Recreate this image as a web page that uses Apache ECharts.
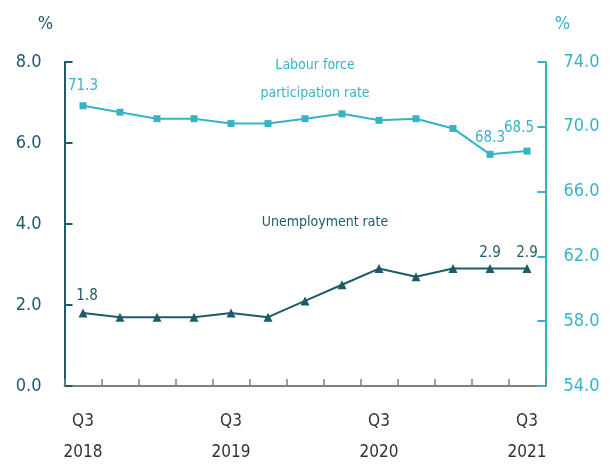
<!DOCTYPE html>
<html>
<head>
<meta charset="utf-8">
<script src="https://cdn.jsdelivr.net/npm/echarts@6/dist/echarts.min.js"></script>
<style>
html,body{margin:0;padding:0;background:#fff;}
#c{width:611px;height:468px;}
</style>
</head>
<body>
<div id="c"></div>
<script>
const quarters = ['Q3','Q4','Q1','Q2','Q3','Q4','Q1','Q2','Q3','Q4','Q1','Q2','Q3'];
const years = ['2018','2018','2019','2019','2019','2019','2020','2020','2020','2020','2021','2021','2021'];
const unemployment = [1.8,1.7,1.7,1.7,1.8,1.7,2.1,2.5,2.9,2.7,2.9,2.9,2.9];
const participation = [71.3,70.9,70.5,70.5,70.2,70.2,70.5,70.8,70.4,70.5,69.9,68.3,68.5];
const leftTicks = {min:0, max:8, interval:2};
const rightTicks = {min:54, max:74, interval:4};
const labelledIdx = [0, 11, 12];

const FONT = "'DejaVu Sans Condensed','Liberation Sans Narrow','Arial Narrow','Liberation Sans',sans-serif";
const DARK = '#1f5a69';
const LIGHT = '#38b3c4';

const categories = quarters.map((q,i)=>q+' '+years[i]);

const partLabelOffset = {0:[0,0], 11:[0,4], 12:[-8,-3]};
const unempLabelOffset = {0:[4,0], 11:[0,2], 12:[0,2]};

function buildData(vals, offsets, color, dist){
  return vals.map((v,i)=>{
    if(labelledIdx.indexOf(i) >= 0){
      return {value:v, label:{show:true, position:'top', distance:dist, offset:offsets[i],
        color:color, fontFamily:FONT, fontSize:15, formatter:(p)=>p.value.toFixed(1)}};
    }
    return {value:v};
  });
}

const chart = echarts.init(document.getElementById('c'), null, {renderer:'canvas'});
chart.setOption({
  animation:false,
  backgroundColor:'#fff',
  grid:{left:64.5, right:65.5, top:62, bottom:77, containLabel:false},
  xAxis:{
    type:'category',
    data:categories,
    boundaryGap:true,
    axisLine:{lineStyle:{color:'#808080', width:2}},
    axisTick:{show:true, inside:true, length:7, interval:0, lineStyle:{color:'#808080', width:1.5}},
    axisLabel:{
      interval:0, margin:20, fontFamily:FONT, fontSize:17, color:'#333', lineHeight:31,
      formatter:(v, i)=> (i % 4 === 0) ? quarters[i] + '\n' + years[i] : ''
    },
    splitLine:{show:false}
  },
  yAxis:[
    {
      type:'value', position:'left',
      min:leftTicks.min, max:leftTicks.max, interval:leftTicks.interval,
      name:'%', nameLocation:'end', nameGap:29,
      nameTextStyle:{color:DARK, fontFamily:FONT, fontSize:18, align:'center', padding:[0,38,0,0]},
      axisLine:{show:true, lineStyle:{color:DARK, width:2}},
      axisTick:{show:true, inside:true, length:8, lineStyle:{color:DARK, width:2}},
      axisLabel:{margin:23, fontFamily:FONT, fontSize:18, color:DARK, formatter:(v)=>v.toFixed(1)},
      splitLine:{show:false}
    },
    {
      type:'value', position:'right',
      min:rightTicks.min, max:rightTicks.max, interval:rightTicks.interval,
      name:'%', nameLocation:'end', nameGap:29,
      nameTextStyle:{color:LIGHT, fontFamily:FONT, fontSize:18, align:'center', padding:[0,0,0,34]},
      axisLine:{show:true, lineStyle:{color:LIGHT, width:2}},
      axisTick:{show:true, inside:true, length:8, lineStyle:{color:LIGHT, width:2}},
      axisLabel:{margin:18, fontFamily:FONT, fontSize:18, color:LIGHT, formatter:(v)=>v.toFixed(1)},
      splitLine:{show:false}
    }
  ],
  series:[
    {
      name:'Labour force participation rate', type:'line', yAxisIndex:1,
      data:buildData(participation, partLabelOffset, LIGHT, 9),
      symbol:'rect', symbolSize:7,
      lineStyle:{color:LIGHT, width:2}, itemStyle:{color:LIGHT},
      label:{show:false}
    },
    {
      name:'Unemployment rate', type:'line', yAxisIndex:0,
      data:buildData(unemployment, unempLabelOffset, DARK, 5),
      symbol:'triangle', symbolSize:9,
      lineStyle:{color:DARK, width:2}, itemStyle:{color:DARK},
      label:{show:false}
    }
  ],
  graphic:[
    {type:'text', style:{text:'Labour force', fill:LIGHT, font:'14px '+FONT, textAlign:'center', textVerticalAlign:'middle'}, position:[315,65]},
    {type:'text', style:{text:'participation rate', fill:LIGHT, font:'14px '+FONT, textAlign:'center', textVerticalAlign:'middle'}, position:[315,93]},
    {type:'text', style:{text:'Unemployment rate', fill:DARK, font:'14px '+FONT, textAlign:'center', textVerticalAlign:'middle'}, position:[325,222]}
  ]
});
</script>
</body>
</html>
